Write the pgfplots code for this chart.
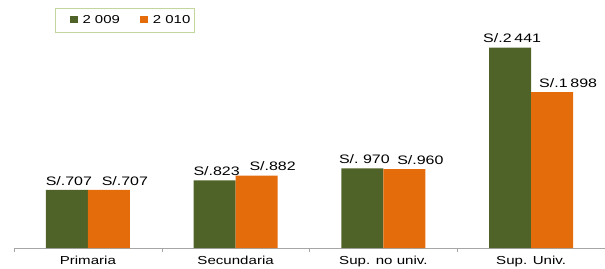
\documentclass[border=0pt]{standalone}
\usepackage{pgfplots}
\pgfplotsset{compat=1.18}
\usepackage{pgfplotstable}
\usepackage{fontspec}
\setmainfont{Liberation Sans}[FakeStretch=1.3]
\definecolor{cgreen}{HTML}{4F6228}
\definecolor{corange}{HTML}{E46C0A}
\definecolor{cleg}{HTML}{C3D69B}
\pgfplotstableread{
x y lab
0 707 S/.707
1 823 S/.823
2 970 {S/.\ 970}
3 2441 {S/.2\hspace{0.22em}441}
}\tA
\pgfplotstableread{
x y lab
0 707 S/.707
1 882 S/.882
2 960 S/.960
3 1898 {S/.1\hspace{0.22em}898}
}\tB
\begin{document}
\begin{tikzpicture}[x=1pt,y=1pt]
\useasboundingbox (0,0) rectangle (605,268);
\begin{axis}[
  at={(14pt,20pt)}, anchor=south west,
  scale only axis, width=591pt, height=243pt,
  ybar=0pt, bar width=42pt,
  xmin=-0.5, xmax=3.5, ymin=0, ymax=2960,
  axis y line=none,
  axis x line*=bottom,
  x axis line style={draw=gray!70, -},
  xtick={0,1,2,3},
  xticklabels={Primaria,Secundaria,Sup. no univ.,Sup. Univ.},
  major x tick style={draw=none},
  minor xtick={-0.5,0.5,1.5,2.5,3.5},
  minor tick length=4pt,
  minor x tick style={draw=gray!70},
  tick align=outside,
  xticklabel style={font=\fontsize{11.6}{14}\selectfont, yshift=0pt},
  nodes near coords,
  point meta=explicit symbolic,
  every node near coord/.append style={font=\fontsize{12.3}{14}\selectfont, text=black, yshift=1pt},
  legend columns=2,
  legend style={at={(rel axis cs:0.0694,0.9877)}, anchor=north west, draw=cleg, line width=1pt,
    font=\fontsize{11.5}{13}\selectfont, inner xsep=2pt, inner ysep=5pt,
    /tikz/every even column/.append style={column sep=6pt}},
  legend image code/.code={\path (0pt,0pt) (20pt,0pt); \fill[#1] (12pt,-3pt) rectangle (20pt,4pt);},
]
\addplot[fill=cgreen, draw=none, every node near coord/.append style={xshift=2pt}] table[x=x,y=y,meta=lab]{\tA};
\addplot[fill=corange, draw=none, every node near coord/.append style={xshift=16pt}] table[x=x,y=y,meta=lab]{\tB};
\legend{\hspace{3pt}2 009,\hspace{3pt}2 010\hspace{6pt}}
\end{axis}
\end{tikzpicture}
\end{document}
